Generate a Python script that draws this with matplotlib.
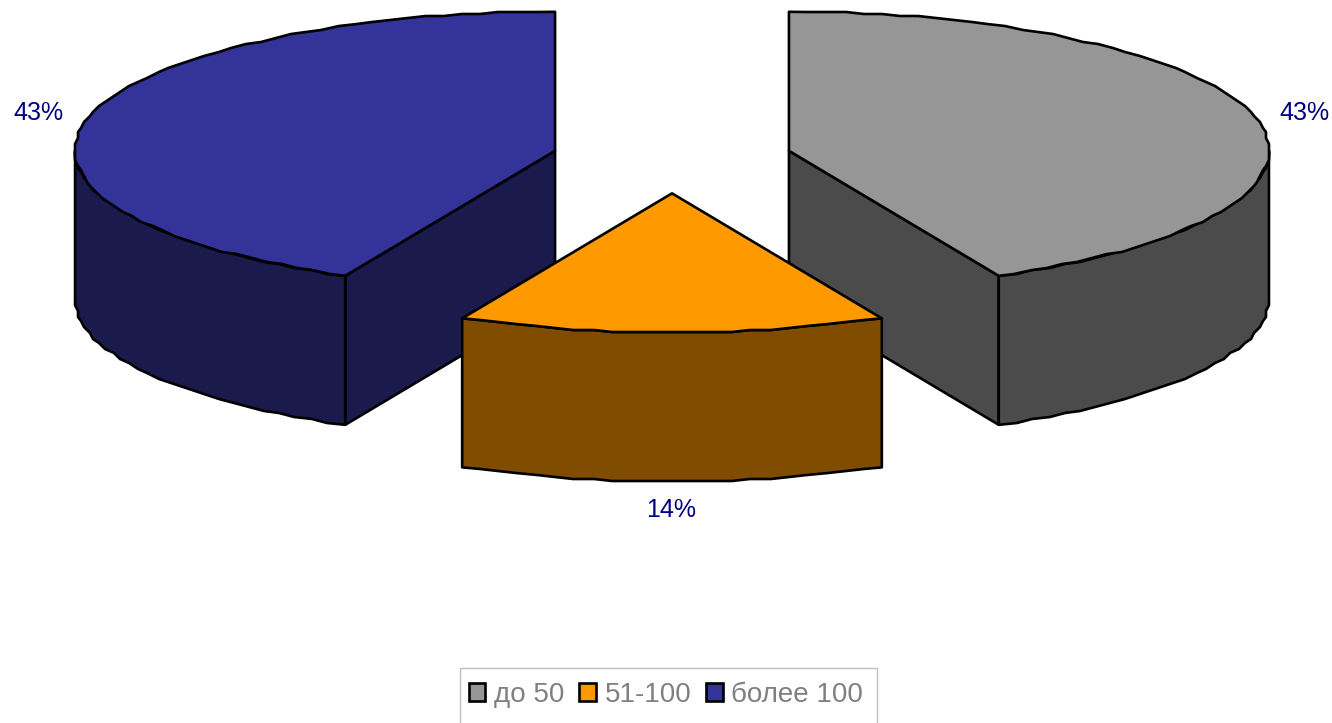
import numpy as np
import matplotlib
matplotlib.use('Agg')
import matplotlib.pyplot as plt
from matplotlib.patches import Patch, Polygon, Rectangle

plt.rcParams['font.family'] = ['Liberation Sans', 'DejaVu Sans']

categories = ['до 50', '51-100', 'более 100']
shares = [42.8, 14.4, 42.8]
share_labels = ['43%', '14%', '43%']

top_colors = ['#969696', '#FF9900', '#333399']
side_colors = ['#4B4B4B', '#804C00', '#1A1A4D']

# pie geometry, in pixels of the picture
CENTER_X, CENTER_Y = 672, 158.6
RX, RY = 480, 139
DEPTH = 149
EXPLODE = 0.25
LW = 1.9
draw_order = [2, 0, 1]
label_pos = [(1304, 113), (671, 510), (38, 113)]


def rim(cx, cy, a0, a1):
    # angles clockwise from the top; snapping gives the stepped edge of the original
    n = max(int((a1 - a0) / 2.2), 2)
    t = np.radians(np.linspace(a0, a1, n))
    x = cx + RX * np.sin(t)
    y = cy - RY * np.cos(t)
    x[1:-1] = np.round(x[1:-1] / 3) * 3
    y[1:-1] = np.round(y[1:-1] / 2) * 2
    return np.column_stack([x, y])


def draw_slice(ax, a0, a1, top, side, zorder):
    mid = np.radians((a0 + a1) / 2)
    cx = CENTER_X + EXPLODE * RX * np.sin(mid)
    cy = CENTER_Y - EXPLODE * RY * np.cos(mid)
    apex = np.array([cx, cy])
    down = np.array([0, DEPTH])
    kw = dict(edgecolor='black', linewidth=LW, joinstyle='round', zorder=zorder)

    # flat cut faces
    for a in (a0, a1):
        if 90 < a < 270 and not (a0 < 180 < a1):
            end = rim(cx, cy, a, a + 1)[0]
            ax.add_patch(Polygon([apex, end, end + down, apex + down], facecolor=side, **kw))

    # outer wall, only the part that faces the viewer
    w0, w1 = max(a0, 90), min(a1, 270)
    if w1 > w0:
        edge = rim(cx, cy, w0, w1)
        ax.add_patch(Polygon(np.vstack([edge, (edge + down)[::-1]]), facecolor=side, **kw))

    # top face
    ax.add_patch(Polygon(np.vstack([apex, rim(cx, cy, a0, a1)]), facecolor=top, **kw))


def main():
    fig = plt.figure(figsize=(13.32, 7.23), dpi=100)
    ax = fig.add_axes([0, 0, 1, 1])
    ax.set_xlim(0, 1332)
    ax.set_ylim(723, 0)
    ax.axis('off')

    edges = np.concatenate([[0], np.cumsum(shares)]) / sum(shares) * 360
    for z, i in enumerate(draw_order):
        draw_slice(ax, edges[i], edges[i + 1], top_colors[i], side_colors[i], zorder=2 + z)

    for (x, y), s in zip(label_pos, share_labels):
        ax.text(x, y, s, color='#000080', fontsize=18, ha='center', va='center')

    ax.add_patch(Rectangle((459.5, 668), 417, 60, facecolor='white', edgecolor='#C0C0C0',
                           linewidth=1, zorder=5))
    handles = [Patch(facecolor=c, edgecolor='black', linewidth=LW) for c in top_colors]
    ax.legend(handles, categories, ncol=3, frameon=False, loc='center',
              bbox_to_anchor=(666, 695), bbox_transform=ax.transData,
              fontsize=20, labelcolor='#808080', handlelength=0.6, handleheight=0.6,
              handletextpad=0.3, columnspacing=0.55).set_zorder(6)

    plt.savefig('out.png', dpi=100)


if __name__ == '__main__':
    main()
